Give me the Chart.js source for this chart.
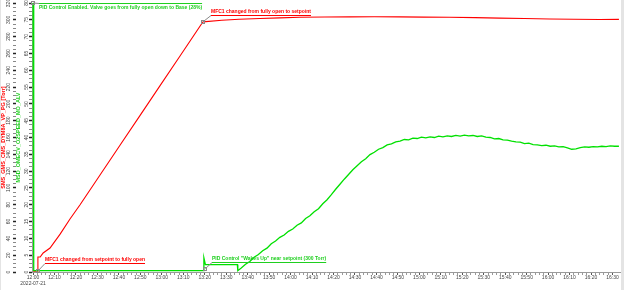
<!DOCTYPE html>
<html>
<head>
<meta charset="utf-8">
<script src="https://cdn.jsdelivr.net/npm/chart.js@4/dist/chart.umd.min.js"></script>
<style>
html, body { margin: 0; padding: 0; background: #fff; }
canvas { display: block; }
</style>
</head>
<body>
<canvas id="chart" width="624" height="290"></canvas>
<script>
// time axis: minutes after 12:00 on 2022-07-21
const dateLabel = '2022-07-21';
const timeTicks = [0, 10, 20, 30, 40, 50, 60, 70, 80, 90, 100, 110, 120, 130, 140, 150, 160, 170, 180, 190, 200, 210, 220, 230, 240, 250, 260, 270];
const timeLabels = ['12:00', '12:10', '12:20', '12:30', '12:40', '12:50', '13:00', '13:10', '13:20', '13:30', '13:40', '13:50', '14:00', '14:10', '14:20', '14:30', '14:40', '14:50', '15:00', '15:10', '15:20', '15:30', '15:40', '15:50', '16:00', '16:10', '16:20', '16:30'];

// red: pressure [Torr]
const redTimes = [0, 2.2, 2.25, 3.3, 4.7, 7.9, 12.6, 17.2, 21.9, 31.2, 40.5, 49.8, 59.1, 68.4, 79.1, 80.5, 88, 96, 105.7, 115, 124.3, 136, 147.6, 159, 170.9, 182, 194, 206, 217.4, 229, 240.7, 252, 264, 273];
const redValues = [1, 1, 17.8, 17.8, 22.6, 28.5, 45, 63, 80, 115.4, 150.7, 186, 221.4, 256.7, 297.4, 297.8, 299.5, 300.6, 301.5, 302.3, 303, 303.4, 303.5, 303.6, 303.5, 303.2, 303, 302.6, 302, 301.5, 301, 300.6, 300.4, 300.5];

// green: valve position
const greenTimes = [0, 0.3, 79.5, 79.6, 80.3, 95.2, 95.4, 97, 99, 101, 103, 105, 107, 109, 111, 113, 115, 117, 119, 121, 123, 125, 127, 129, 131, 133, 135, 137, 139, 141, 143, 145, 147, 149, 151, 153, 155, 157, 159, 161, 163, 165, 167, 169, 171, 173, 175, 177, 179, 181, 183, 185, 187, 189, 191, 193, 195, 197, 199, 201, 203, 205, 207, 209, 211, 213, 215, 217, 219, 221, 223, 225, 227, 229, 231, 233, 235, 237, 239, 241, 243, 245, 247, 249, 251, 253, 255, 257, 259, 261, 263, 265, 267, 269, 271, 273];
const greenValues = [80, 0.4, 0.4, 4.2, 2.2, 2.2, 0.4, 1.2, 2.3, 3.1, 4.4, 5.2, 6.3, 7.1, 8.4, 9.2, 10.3, 11.0, 12.1, 12.8, 13.9, 14.6, 15.9, 16.7, 17.9, 18.8, 20.3, 21.5, 23.0, 24.6, 26.1, 27.6, 29.0, 30.4, 31.6, 32.8, 33.7, 34.9, 35.6, 36.5, 37.0, 37.8, 38.1, 38.7, 38.9, 39.4, 39.3, 39.8, 39.7, 40.1, 39.9, 40.2, 40.0, 40.4, 40.2, 40.5, 40.3, 40.6, 40.4, 40.7, 40.5, 40.6, 40.3, 40.5, 40.1, 40.0, 39.6, 39.7, 39.3, 39.2, 38.9, 38.7, 38.6, 38.2, 38.3, 37.9, 37.8, 37.6, 37.7, 37.4, 37.5, 37.2, 37.3, 36.9, 36.5, 36.6, 37.0, 37.2, 37.1, 37.3, 37.2, 37.4, 37.3, 37.5, 37.4, 37.4];

const redAxisTicks = [0, 20, 40, 60, 80, 100, 120, 140, 160, 180, 200, 220, 240, 260, 280, 300, 320];
const greenAxisTicks = [0, 5, 10, 15, 20, 25, 30, 35, 40, 45, 50, 55, 60, 65, 70, 75, 80];

const RED = '#ff0000';
const GREEN = '#00e000';
const GREEN_TEXT = '#1fcf1f';

const notes = [
  { text: 'PID Control Enabled. Valve goes from fully open down to Base (28%)', axis: 'yG', t: 0, v: 80, dx: 6, dy: 0, below: true, color: GREEN_TEXT },
  { text: 'MFC1 changed from fully open to setpoint', axis: 'yR', t: 79.1, v: 297.4, dx: 8, dy: -7, below: false, color: RED },
  { text: 'MFC1 changed from setpoint to fully open', axis: 'yR', t: 2.2, v: 1, dx: 7, dy: -8, below: false, color: RED },
  { text: 'PID Control "Wakes Up" near setpoint (300 Torr)', axis: 'yG', t: 80.3, v: 1, dx: 7, dy: -7, below: false, color: GREEN_TEXT }
];

function pairs(xs, ys) {
  return xs.map((x, i) => ({ x: x, y: ys[i] }));
}

// tick list with minor ticks between the labelled ones
function withMinor(major, parts) {
  const out = [];
  for (let i = 0; i < major.length; i++) {
    out.push({ value: major[i], major: true });
    if (i < major.length - 1) {
      const step = (major[i + 1] - major[i]) / parts;
      for (let k = 1; k < parts; k++) out.push({ value: major[i] + k * step, major: false });
    }
  }
  return out;
}

const notePlugin = {
  id: 'notes',
  afterDatasetsDraw(chart) {
    const ctx = chart.ctx;
    ctx.save();
    ctx.font = 'bold 5px "Liberation Sans"';
    ctx.lineWidth = 1;
    notes.forEach(n => {
      const px = chart.scales.x.getPixelForValue(n.t);
      const py = chart.scales[n.axis].getPixelForValue(n.v);
      const lx = Math.round(px + n.dx), ly = Math.round(py + n.dy);
      const w = ctx.measureText(n.text).width;
      ctx.strokeStyle = '#8a8a8a';
      ctx.beginPath();
      ctx.moveTo(px, py);
      ctx.lineTo(lx, ly + 0.5);
      ctx.stroke();
      ctx.strokeRect(Math.round(px) - 1.5, Math.round(py) - 1.5, 3, 3);
      ctx.strokeStyle = n.color;
      ctx.beginPath();
      ctx.moveTo(lx, ly + 0.5);
      ctx.lineTo(lx + w, ly + 0.5);
      ctx.stroke();
      ctx.fillStyle = n.color;
      ctx.textBaseline = n.below ? 'top' : 'bottom';
      ctx.fillText(n.text, lx, n.below ? ly + 2 : ly - 0.5);
    });
    ctx.restore();
  }
};

const framePlugin = {
  id: 'frame',
  beforeDraw(chart) {
    const ctx = chart.ctx;
    ctx.save();
    ctx.fillStyle = '#fff';
    ctx.fillRect(0, 0, chart.width, chart.height);
    ctx.fillStyle = '#e4e4e4';
    ctx.fillRect(621, 0, 3, chart.height);
    ctx.fillRect(0, 0, 1, chart.height);
    ctx.restore();
  }
};

const tickFont = { family: '"Liberation Sans"', size: 5, lineHeight: 1.1 };

new Chart(document.getElementById('chart'), {
  type: 'line',
  data: {
    datasets: [
      {
        label: 'MSD_OMECV_O2SPEED_MO_ALV',
        data: pairs(greenTimes, greenValues),
        yAxisID: 'yG',
        borderColor: GREEN,
        borderWidth: 1.3,
        pointRadius: 0,
        tension: 0
      },
      {
        label: 'SMS_GMS_CMS_DYM8A_VP_PG [Torr]',
        data: pairs(redTimes, redValues),
        yAxisID: 'yR',
        borderColor: RED,
        borderWidth: 1.1,
        pointRadius: 0,
        tension: 0
      }
    ]
  },
  options: {
    responsive: false,
    animation: false,
    devicePixelRatio: 1,
    layout: { padding: { top: 3, right: 4, left: 0, bottom: 0 } },
    plugins: {
      legend: { display: false },
      tooltip: { enabled: false }
    },
    scales: {
      x: {
        type: 'linear',
        min: -0.5,
        max: 273.5,
        afterBuildTicks: s => { s.ticks = withMinor(timeTicks, 5); },
        afterFit: s => { s.height = 18; },
        border: { display: true, color: '#9a9a9a', width: 1 },
        grid: {
          drawOnChartArea: false,
          tickLength: 3,
          tickColor: c => (c.tick && c.tick.major ? '#555' : '#999'),
          tickWidth: 1
        },
        ticks: {
          autoSkip: false,
          maxRotation: 0,
          padding: 0,
          color: '#444',
          font: tickFont,
          callback: (value) => {
            const i = timeTicks.indexOf(value);
            if (i < 0) return '';
            return i === 0 ? [timeLabels[0], dateLabel] : timeLabels[i];
          }
        }
      },
      yG: {
        type: 'linear',
        position: 'left',
        weight: 0,
        min: 0,
        max: 80,
        afterBuildTicks: s => { s.ticks = withMinor(greenAxisTicks, 4); },
        afterFit: s => { s.width = 16; },
        border: { display: true, color: '#9a9a9a', width: 1 },
        grid: {
          drawOnChartArea: false,
          tickLength: 3,
          tickColor: c => (c.tick && c.tick.major ? '#222' : '#888'),
          tickWidth: c => (c.tick && c.tick.major ? 1.5 : 1)
        },
        title: {
          display: true,
          text: 'MSD_OMECV_O2SPEED_MO_ALV',
          color: GREEN_TEXT,
          font: { family: '"Liberation Sans"', size: 5.5, weight: 'bold', lineHeight: 1 },
          padding: { top: 0, bottom: 0 }
        },
        ticks: {
          autoSkip: false,
          minRotation: 90,
          maxRotation: 90,
          crossAlign: 'center',
          padding: 0,
          color: '#444',
          font: tickFont,
          callback: (value) => (greenAxisTicks.indexOf(value) >= 0 ? String(value) : '')
        }
      },
      yR: {
        type: 'linear',
        position: 'left',
        weight: 1,
        min: 0,
        max: 320,
        afterBuildTicks: s => { s.ticks = withMinor(redAxisTicks, 4); },
        afterFit: s => { s.width = 16; },
        border: { display: false },
        grid: {
          drawOnChartArea: false,
          tickLength: 3,
          tickColor: c => (c.tick && c.tick.major ? '#222' : '#888'),
          tickWidth: c => (c.tick && c.tick.major ? 1.5 : 1)
        },
        title: {
          display: true,
          text: 'SMS_GMS_CMS_DYM8A_VP_PG [Torr]',
          color: RED,
          font: { family: '"Liberation Sans"', size: 5.5, weight: 'bold', lineHeight: 1 },
          padding: { top: 1, bottom: 0 }
        },
        ticks: {
          autoSkip: false,
          minRotation: 90,
          maxRotation: 90,
          crossAlign: 'center',
          padding: 0,
          color: '#444',
          font: tickFont,
          callback: (value) => (redAxisTicks.indexOf(value) >= 0 ? String(value) : '')
        }
      }
    }
  },
  plugins: [framePlugin, notePlugin]
});
</script>
</body>
</html>
